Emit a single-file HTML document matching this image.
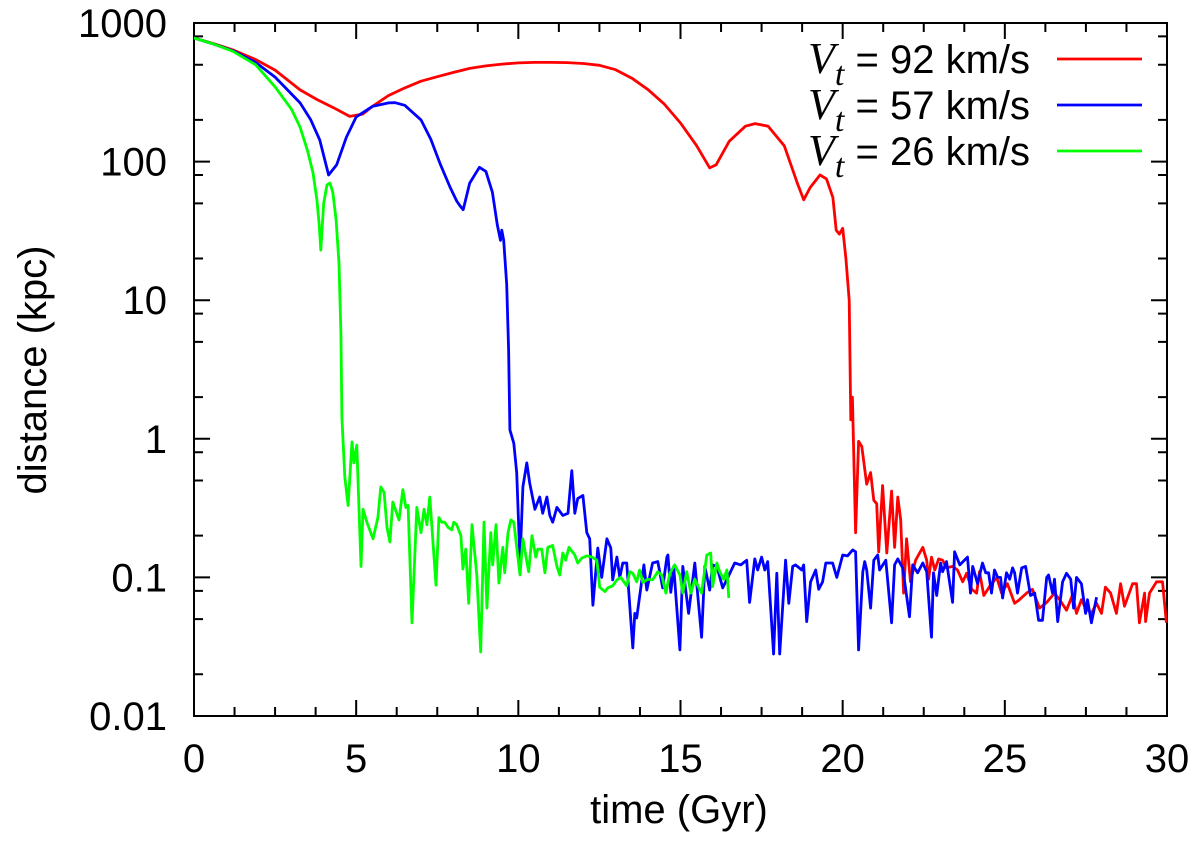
<!DOCTYPE html>
<html><head><meta charset="utf-8"><style>
body{margin:0;background:#fff}
svg text{font-family:"Liberation Sans",sans-serif;fill:#000}
</style></head><body>
<svg id="chart" width="1200" height="850" xmlns="http://www.w3.org/2000/svg">
<g id="axes"></g>
<g id="series"></g>
<text transform="translate(46,370) rotate(-90)" text-anchor="middle" font-size="40">distance (kpc)</text>
<text x="679" y="823" text-anchor="middle" font-size="40">time (Gyr)</text>
<g id="legend"></g>
</svg>
<script>
const xTicks=[0,5,10,15,20,25,30];
const yTicks=[1000,100,10,1,0.1,0.01];
const yTickLabels=["1000","100","10","1","0.1","0.01"];
const legendLabels=["92 km/s","57 km/s","26 km/s"];
const seriesColors=["#ff0000","#0000ff","#00ff00"];
const redT=[0,0.6,1.2,1.9,2.5,3.27,3.8,4.3,4.8,5.2,5.5,6,6.5,7,7.5,8,8.5,9,9.5,10,10.5,11,11.5,12,12.5,13,13.5,14,14.5,15,15.5,15.9,16.1,16.5,17,17.3,17.7,18.2,18.6,18.8,19,19.3,19.5,19.7,19.8,19.9,20,20.1,20.2,20.25,20.3,20.4,20.49,20.59,20.74,20.86,20.96,21.05,21.11,21.23,21.36,21.51,21.6,21.7,21.79,21.88,21.97,22.09,22.25,22.47,22.59,22.65,22.74,22.84,22.96,23.08,23.2,23.39,23.54,23.7,23.82,23.98,24.13,24.22,24.35,24.53,24.75,24.9,25.08,25.3,25.45,25.67,25.85,26.07,26.29,26.53,26.69,26.9,27.09,27.21,27.36,27.49,27.67,27.83,27.98,28.1,28.26,28.44,28.57,28.69,28.94,29.06,29.15,29.31,29.34,29.46,29.68,29.86,29.98];
const redD=[780,710,640,545,457,329,280,245,212,220,250,300,340,380,410,440,470,490,505,515,520,520,518,510,495,460,400,330,260,190,130,90,95,140,180,188,180,130,70,53,65,80,75,55,32,30,33,20,10,1.37,2,0.21,0.96,0.88,0.47,0.57,0.36,0.34,0.153,0.46,0.15,0.42,0.165,0.38,0.26,0.077,0.19,0.093,0.133,0.165,0.133,0.097,0.14,0.113,0.136,0.133,0.117,0.12,0.113,0.093,0.107,0.082,0.077,0.11,0.074,0.086,0.1,0.077,0.09,0.065,0.069,0.077,0.082,0.06,0.066,0.077,0.069,0.058,0.075,0.055,0.069,0.06,0.055,0.065,0.055,0.085,0.077,0.055,0.09,0.062,0.09,0.09,0.047,0.077,0.048,0.077,0.093,0.093,0.047];
const blueT=[0,0.6,1.2,1.9,2.5,3.27,3.6,3.88,4.15,4.4,4.7,5,5.5,6,6.2,6.5,7,7.3,7.6,7.9,8.1,8.2,8.3,8.5,8.8,9.0,9.2,9.35,9.45,9.49,9.55,9.64,9.7,9.74,9.86,9.95,10.05,10.14,10.26,10.35,10.51,10.66,10.75,10.88,10.97,11.06,11.19,11.37,11.53,11.65,11.74,11.83,11.99,12.11,12.2,12.3,12.45,12.57,12.73,12.85,12.91,13.04,13.13,13.22,13.34,13.53,13.59,13.65,13.87,13.96,14.14,14.3,14.45,14.58,14.61,14.7,14.79,14.98,15.07,15.25,15.44,15.65,15.75,15.9,15.99,16.12,16.3,16.46,16.67,16.86,17.04,17.13,17.29,17.38,17.5,17.6,17.69,17.87,17.97,18.06,18.24,18.34,18.46,18.55,18.74,18.8,18.89,19.01,19.17,19.26,19.38,19.48,19.69,19.82,20.0,20.15,20.31,20.4,20.49,20.62,20.68,20.74,20.86,20.96,21.08,21.14,21.33,21.51,21.6,21.7,21.85,22.06,22.16,22.31,22.47,22.59,22.74,22.8,22.9,23.02,23.08,23.2,23.39,23.45,23.61,23.85,23.94,24.01,24.16,24.31,24.41,24.5,24.59,24.68,24.78,24.87,24.93,25.05,25.15,25.24,25.3,25.39,25.52,25.64,25.79,25.92,26.04,26.16,26.29,26.35,26.47,26.53,26.63,26.78,26.9,27.03,27.12,27.21,27.36,27.49,27.55,27.67,27.83];
const blueD=[780,705,630,520,407,265,200,143,80,95,150,210,250,265,266,255,200,145,95,65,52,48,45,70,91,85,60,35,27,32,27,13,4.4,1.16,0.93,0.57,0.13,0.45,0.67,0.48,0.31,0.38,0.29,0.38,0.28,0.25,0.32,0.28,0.29,0.59,0.29,0.37,0.39,0.21,0.19,0.063,0.163,0.1,0.19,0.163,0.096,0.14,0.1,0.127,0.127,0.031,0.055,0.051,0.123,0.081,0.127,0.13,0.084,0.14,0.145,0.078,0.12,0.03,0.12,0.055,0.127,0.037,0.12,0.081,0.123,0.12,0.084,0.1,0.127,0.123,0.133,0.066,0.136,0.113,0.14,0.113,0.13,0.028,0.107,0.028,0.133,0.065,0.12,0.123,0.113,0.123,0.048,0.093,0.113,0.082,0.093,0.127,0.127,0.1,0.145,0.143,0.158,0.153,0.03,0.11,0.13,0.113,0.06,0.133,0.145,0.113,0.133,0.047,0.123,0.136,0.117,0.052,0.123,0.108,0.127,0.11,0.037,0.108,0.074,0.127,0.11,0.13,0.066,0.153,0.123,0.14,0.077,0.12,0.09,0.127,0.108,0.108,0.077,0.113,0.1,0.1,0.071,0.108,0.097,0.117,0.108,0.077,0.117,0.12,0.074,0.077,0.049,0.049,0.1,0.104,0.077,0.097,0.048,0.093,0.107,0.097,0.06,0.1,0.09,0.055,0.069,0.047,0.072];
const greenT=[0,0.6,1.2,1.9,2.5,3.0,3.27,3.5,3.67,3.79,3.86,3.91,4.0,4.1,4.19,4.28,4.38,4.47,4.53,4.56,4.65,4.75,4.87,4.93,5.02,5.15,5.21,5.33,5.52,5.67,5.76,5.86,5.95,6.04,6.13,6.32,6.44,6.53,6.6,6.72,6.87,7.0,7.09,7.18,7.27,7.46,7.55,7.64,7.73,7.83,7.95,8.01,8.1,8.23,8.29,8.38,8.47,8.57,8.72,8.84,8.94,9.03,9.15,9.21,9.31,9.4,9.52,9.58,9.68,9.77,9.86,10.05,10.14,10.26,10.32,10.42,10.54,10.6,10.72,10.82,10.91,11.06,11.19,11.28,11.37,11.46,11.56,11.74,11.83,11.96,12.11,12.27,12.42,12.51,12.67,12.76,12.91,13.04,13.16,13.34,13.44,13.53,13.65,13.74,13.84,13.99,14.14,14.3,14.42,14.55,14.67,14.82,14.98,15.07,15.19,15.32,15.44,15.65,15.81,15.93,15.99,16.12,16.21,16.33,16.43,16.49];
const greenD=[780,705,625,500,346,240,177,120,83,53,35,23,50,68,70,60,38,18.5,5.8,1.44,0.53,0.33,0.95,0.67,0.9,0.12,0.31,0.25,0.19,0.27,0.45,0.41,0.23,0.18,0.35,0.26,0.43,0.32,0.33,0.047,0.32,0.21,0.31,0.24,0.38,0.088,0.27,0.25,0.25,0.23,0.22,0.25,0.24,0.2,0.115,0.16,0.065,0.24,0.104,0.029,0.25,0.06,0.21,0.123,0.24,0.091,0.165,0.108,0.21,0.26,0.25,0.104,0.19,0.13,0.11,0.2,0.14,0.16,0.16,0.108,0.165,0.17,0.12,0.104,0.15,0.133,0.165,0.145,0.127,0.138,0.143,0.14,0.133,0.085,0.079,0.084,0.087,0.096,0.1,0.087,0.11,0.107,0.093,0.113,0.092,0.097,0.096,0.11,0.104,0.077,0.107,0.123,0.104,0.077,0.11,0.077,0.097,0.077,0.145,0.15,0.086,0.127,0.11,0.097,0.113,0.071];

const X0=194,X1=1167,Y0=23,Y1=716;
const NS="http://www.w3.org/2000/svg";
function xs(t){return X0+(t-0)/(30-0)*(X1-X0);}
function ys(d){return Y0+(3-Math.log10(d))/5*(Y1-Y0);}
function mk(tag,parent){const e=document.createElementNS(NS,tag);parent.appendChild(e);return e;}
const axes=document.getElementById('axes');
const frame=mk('rect',axes);


frame.setAttribute('x',X0);frame.setAttribute('y',Y0);frame.setAttribute('width',X1-X0);frame.setAttribute('height',Y1-Y0);
frame.setAttribute('fill','none');frame.setAttribute('stroke','#000');frame.setAttribute('stroke-width','2');
let tk='';
for(let t=0;t<=30.001;t+=1.25){const x=xs(t);const major=Math.abs(t/5-Math.round(t/5))<1e-6;const L=major?16:9;
 tk+=`M${x},${Y1}v${-L}M${x},${Y0}v${L}`;}
for(let e=-2;e<=3;e++){const y=ys(Math.pow(10,e));tk+=`M${X0},${y}h16M${X1},${y}h-16`;
 if(e<3){[2,5,8].forEach(m=>{const yy=ys(m*Math.pow(10,e));tk+=`M${X0},${yy}h9M${X1},${yy}h-9`;});}}
const ticks=mk('path',axes);


ticks.setAttribute('d',tk);ticks.setAttribute('stroke','#000');ticks.setAttribute('stroke-width','2');
xTicks.forEach(v=>{const t=mk('text',axes);
 
 
 t.setAttribute('x',xs(v));t.setAttribute('y',772);t.setAttribute('text-anchor','middle');t.setAttribute('font-size','40');t.textContent=String(v);});
yTicks.forEach((v,i)=>{const t=mk('text',axes);
 
 
 t.setAttribute('x',167);t.setAttribute('y',ys(v)+14);t.setAttribute('text-anchor','end');t.setAttribute('font-size','40');t.textContent=yTickLabels[i];});
const ser=document.getElementById('series');
const names=['series-vt-92','series-vt-57','series-vt-26'];
[[redT,redD],[blueT,blueD],[greenT,greenD]].forEach((s,k)=>{
 const p=mk('path',ser);
 
 
 p.setAttribute('d',s[0].map((t,i)=>(i?'L':'M')+xs(t).toFixed(1)+','+ys(s[1][i]).toFixed(1)).join(''));
 p.setAttribute('fill','none');p.setAttribute('stroke',seriesColors[k]);p.setAttribute('stroke-width','2.8');p.setAttribute('stroke-linejoin','round');});
const lg=document.getElementById('legend');
legendLabels.forEach((lab,i)=>{const y=59+i*46;
 const t=mk('text',lg);
 
 
 t.setAttribute('x',1030);t.setAttribute('y',y+14);t.setAttribute('text-anchor','end');t.setAttribute('font-size','40');
 t.innerHTML=`<tspan font-family="Liberation Serif" font-style="italic" font-size="44">V</tspan><tspan font-family="Liberation Serif" font-style="italic" font-size="34" dy="12">t</tspan><tspan dy="-12"> = ${lab}</tspan>`;
 const l=mk('line',lg);
 
 
 l.setAttribute('x1',1057);l.setAttribute('x2',1142);l.setAttribute('y1',y);l.setAttribute('y2',y);l.setAttribute('stroke',seriesColors[i]);l.setAttribute('stroke-width','2.8');});
</script>
</body></html>
